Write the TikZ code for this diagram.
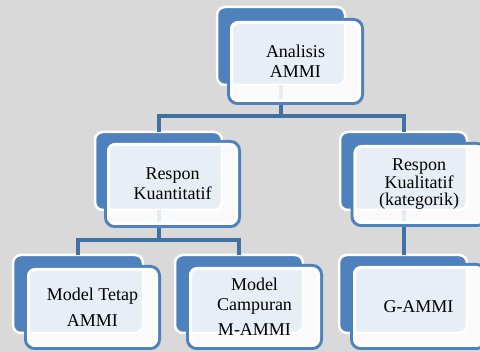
\documentclass[tikz,border=0pt]{standalone}
\usepackage{fontspec}
\setmainfont{Liberation Serif}
\definecolor{bgray}{RGB}{217,217,217}
\definecolor{accent}{RGB}{79,129,189}
\definecolor{linkblue}{RGB}{65,113,160}
\begin{document}
\begin{tikzpicture}[x=1pt,y=-1pt,
  backbox/.style={draw=white, line width=2.5pt, fill=accent, rounded corners=8pt,
    minimum width=128pt, minimum height=78pt, inner sep=0pt, outer sep=0pt},
  frontbox/.style={draw=accent, line width=3pt, fill=white, fill opacity=0.87,
    text opacity=1, draw opacity=1, rounded corners=9pt, minimum width=134pt,
    minimum height=84pt, inner sep=0pt, outer sep=0pt, align=center,
    font=\fontsize{18}{20}\selectfont},
  innerring/.style={draw=white, line width=3pt, rounded corners=7pt},
  link/.style={draw=linkblue, line width=4pt}
]
\useasboundingbox (0,0) rectangle (480,352);
\fill[bgray] (0,0) rectangle (480,352);
\clip (0,0) rectangle (480,352);

% back plates
\node[backbox] (top-b) at (281,46) {};
\node[backbox, minimum width=127pt] (kuan-b) at (158.5,171) {};
\node[backbox, minimum width=127pt] (kual-b) at (403.5,171) {};
\node[backbox, minimum width=130pt] (tetap-b) at (78,294) {};
\node[backbox] (camp-b) at (239,294) {};
\node[backbox] (gammi-b) at (403,294) {};

% connectors
\draw[link] (top-b.south) -- ++(0,31) -| (kuan-b.north);
\draw[link] (top-b.south) ++(0,31) -| (kual-b.north);
\draw[link] (kuan-b.south) -- ++(0,30) -| (tetap-b.north);
\draw[link] (kuan-b.south) ++(0,30) -| (camp-b.north);
\draw[link] (kual-b.south) -- (kual-b.south |- gammi-b.north);

% front cards with text
\node[frontbox] (top-f) at (295.5,61.5) {Analisis\\AMMI};
\node[frontbox, minimum height=85pt] (kuan-f) at (172.5,184) {Respon\\Kuantitatif};
\node[frontbox, minimum height=82pt, font=\fontsize{18}{17.5}\selectfont] (kual-f) at (419,184.5) {Respon\\Kualitatif\\(kategorik)};
\node[frontbox, minimum height=82pt] (tetap-f) at (92.5,307.5) {Model Tetap\\[6pt]AMMI};
\node[frontbox, minimum height=83pt] (camp-f) at (254.5,307) {Model\\Campuran\\[5pt]M-AMMI};
\node[frontbox] (gammi-f) at (418.5,306.5) {G-AMMI};

% white inner rims of the cards
\foreach \n in {top-f,kuan-f,kual-f,tetap-f,camp-f,gammi-f}
  \draw[innerring] ([shift={(3,3)}]\n.north west) rectangle ([shift={(-3,-3)}]\n.south east);
\end{tikzpicture}
\end{document}
